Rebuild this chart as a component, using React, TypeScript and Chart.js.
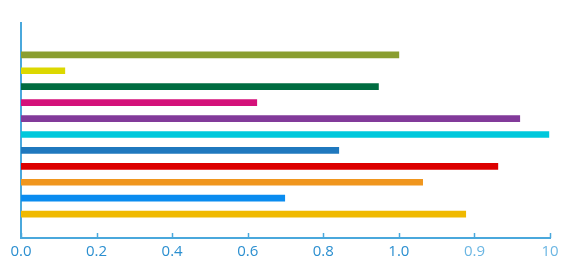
import React, { useEffect, useRef } from "react";
import { Chart, registerables } from "chart.js";

Chart.register(...registerables);

// Rows, top to bottom
const categories = ["A", "B", "C", "D", "E", "F", "G", "H", "I", "J", "K"];
const values = [1.0, 0.116, 0.946, 0.624, 1.32, 1.397, 0.841, 1.262, 1.063, 0.698, 1.177];
const barColors = [
  "#8a9e30",
  "#dcd800",
  "#006c40",
  "#d4117a",
  "#823a9a",
  "#00c8dc",
  "#1f78be",
  "#dc0000",
  "#f0961e",
  "#0a8cf0",
  "#f0b900",
];
const tickValues = [0, 0.2, 0.4, 0.6, 0.8, 1.0, 1.2, 1.4];
const tickLabels = ["0.0", "0.2", "0.4", "0.6", "0.8", "1.0", "0.9", "10"];

const AXIS_COLOR = "#4aa8dc";

const innerTicks = {
  id: "innerTicks",
  afterDraw(chart: any) {
    const ctx = chart.ctx;
    const xs = chart.scales.x;
    const yb = chart.chartArea.bottom;
    ctx.save();
    ctx.strokeStyle = AXIS_COLOR;
    ctx.lineWidth = 1.5;
    tickValues.forEach((v) => {
      const px = Math.round(xs.getPixelForValue(v)) + 0.5;
      ctx.beginPath();
      ctx.moveTo(px, yb);
      ctx.lineTo(px, yb - 5);
      ctx.stroke();
    });
    ctx.restore();
  },
};

export default function App() {
  const ref = useRef<HTMLCanvasElement | null>(null);
  useEffect(() => {
    if (!ref.current) return;
    const chart = new Chart(ref.current, {
      type: "bar",
      data: {
        labels: categories,
        datasets: [
          {
            data: values.map((v, i) => ({ x: v, y: i })) as any,
            backgroundColor: barColors,
            barThickness: 6,
            borderWidth: 0,
          },
        ],
      },
      options: {
        indexAxis: "y",
        animation: false,
        responsive: false,
        maintainAspectRatio: false,
        layout: { padding: { left: 21, right: 20, top: 23, bottom: 0 } },
        plugins: { legend: { display: false }, tooltip: { enabled: false } },
        scales: {
          x: {
            type: "linear",
            min: 0,
            max: 1.4,
            afterBuildTicks: (scale: any) => {
              scale.ticks = tickValues.map((v) => ({ value: v }));
            },
            afterFit: (scale: any) => {
              scale.height = 29;
            },
            grid: { display: false, drawTicks: false },
            border: { display: true, color: AXIS_COLOR, width: 2 },
            ticks: {
              padding: 5,
              maxRotation: 0,
              autoSkip: false,
              font: { family: "'Open Sans'", size: 15 },
              color: (c: any) => (c.index >= 6 ? "#6bb6e3" : "#2b8fd0"),
              callback: (_v: any, i: number) => tickLabels[i],
            },
          },
          y: {
            type: "linear",
            reverse: true,
            offset: false,
            min: -2,
            max: 11.5,
            afterFit: (scale: any) => {
              scale.width = 0;
            },
            grid: { display: false, drawTicks: false, offset: false },
            border: { display: true, color: AXIS_COLOR, width: 2 },
            ticks: { display: false },
          },
        },
      },
      plugins: [innerTicks],
    });
    return () => chart.destroy();
  }, []);
  return (
    <div style={{ position: "absolute", left: 0, top: 0, width: 570, height: 267, background: "#fff" }}>
      <canvas ref={ref} width={570} height={267} style={{ display: "block" }} />
    </div>
  );
}
